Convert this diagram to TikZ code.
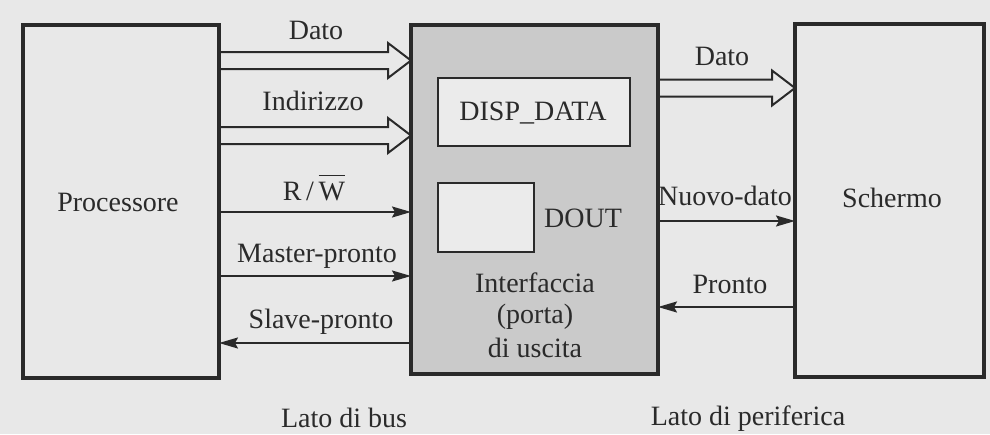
\documentclass[tikz,border=0pt]{standalone}
\usepackage{fontspec}
\setmainfont{Liberation Serif}
\usetikzlibrary{arrows.meta,calc}
\definecolor{paper}{HTML}{E8E8E8}
\definecolor{shade}{HTML}{CACACA}
\definecolor{inner}{HTML}{EBEBEB}
\definecolor{ink}{HTML}{2A2A2A}
\newcommand\blockarrow[3]{%
  \path (#1.east |- 0,#3) coordinate (s) (#2.west |- 0,#3) coordinate (t);
  \draw[barline] ($(s)+(0,-8.5)$) -- ($(t)+(-23,-8.5)$) -- ($(t)+(-23,-17.5)$)
     -- (t) -- ($(t)+(-23,17.5)$) -- ($(t)+(-23,8.5)$) -- ($(s)+(0,8.5)$);
}
\begin{document}
\begin{tikzpicture}[x=1pt,y=-1pt,
  every node/.style={text=ink,font=\fontsize{28}{33}\selectfont,inner sep=0pt,outer sep=0pt},
  bigbox/.style={draw=ink,line width=4pt,rectangle},
  smallbox/.style={draw=ink,fill=inner,line width=2pt,rectangle},
  barline/.style={draw=ink,line width=2pt,line join=miter},
  sig/.style={draw=ink,line width=2pt,-{Stealth[length=19pt,width=11pt,inset=3pt]}},
  lbl/.style={anchor=base}]
\fill[paper] (0,0) rectangle (990,434);
\useasboundingbox (0,0) rectangle (990,434);
% boxes
\node[bigbox,minimum width=196pt,minimum height=353pt] (proc) at (121,201.5) {};
\node[bigbox,fill=shade,minimum width=247pt,minimum height=349pt] (intf) at (534.5,199.5) {};
\node[bigbox,minimum width=189pt,minimum height=353pt] (scr) at (889.5,200.5) {};
\node[smallbox,minimum width=192pt,minimum height=68pt] (disp) at (534,112) {};
\node[smallbox,minimum width=96pt,minimum height=69pt] (dout) at (486,217.5) {};
% box texts
\node[lbl] (tproc) at (118,211) {Processore};
\node[lbl] (tscr) at (892,207) {Schermo};
\node[lbl] (tdisp) at (533,120) {DISP\_DATA};
\node[lbl] (tdout) at (583,227) {DOUT};
\node[lbl] (tint1) at (535,292) {Interfaccia};
\node[lbl] (tint2) at (535,323) {(porta)};
\node[lbl] (tint3) at (535,357) {di uscita};
% bus side
\blockarrow{proc}{intf}{60.5}
\blockarrow{proc}{intf}{135.5}
\node[lbl] (ldato) at (316,39) {Dato};
\node[lbl] (lind) at (313,110) {Indirizzo};
\node[lbl] (lrw) at (314,200) {R\,/\,$\overline{\vrule height 23pt width 0pt\hbox{W}}$};
\draw[sig] (proc.east |- 0,212) -- (intf.west |- 0,212);
\node[lbl] (lmp) at (317,262) {Master-pronto};
\draw[sig] (proc.east |- 0,276) -- (intf.west |- 0,276);
\node[lbl] (lsp) at (321,328) {Slave-pronto};
\draw[sig] (intf.west |- 0,343) -- (proc.east |- 0,343);
\node[lbl] (lbus) at (344,427) {Lato di bus};
% device side
\blockarrow{intf}{scr}{88}
\node[lbl] (rdato) at (722,65) {Dato};
\node[lbl] (lnd) at (725,205) {Nuovo-dato};
\draw[sig] (intf.east |- 0,221) -- (scr.west |- 0,221);
\node[lbl] (lpr) at (730,293) {Pronto};
\draw[sig] (scr.west |- 0,307) -- (intf.east |- 0,307);
\node[lbl] (lper) at (748,425) {Lato di periferica};
\end{tikzpicture}
\end{document}
